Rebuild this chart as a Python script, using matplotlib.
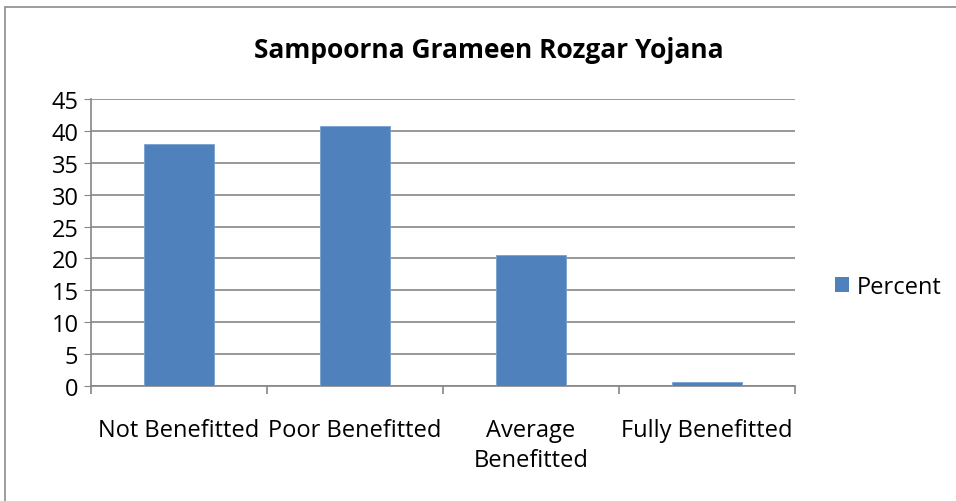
import matplotlib
matplotlib.use('Agg')
import matplotlib.pyplot as plt
from matplotlib.patches import Rectangle, Patch

plt.rcParams['font.family'] = ['Open Sans', 'DejaVu Sans']

categories = ['Not Benefitted', 'Poor Benefitted', 'Average\nBenefitted', 'Fully Benefitted']
percent = [37.9, 40.7, 20.5, 0.6]
y_ticks = [0, 5, 10, 15, 20, 25, 30, 35, 40, 45]

bar_color = '#4f81bd'
grid_color = '#868686'

fig = plt.figure(figsize=(9.56, 5.02), dpi=100)
fig.set_facecolor('w')

# outer chart border (runs off the right and bottom edges like the source)
fig.patches.append(Rectangle((5 / 956, -0.05), 1.0, 1 - 8 / 502 + 0.05,
                             transform=fig.transFigure, fill=False,
                             edgecolor='#8c8c8c', linewidth=1.2))

ax = fig.add_axes([91 / 956, 1 - 387 / 502, (795 - 91) / 956, (387 - 100) / 502])

x = list(range(len(categories)))
ax.bar(x, percent, width=0.4, color=bar_color, edgecolor='#7aa0d0', linewidth=0.6, zorder=3)

ax.set_xlim(-0.5, len(categories) - 0.5)
ax.set_ylim(0, 45)
ax.set_yticks(y_ticks)
ax.tick_params(axis='y', labelsize=17, length=5, color=grid_color, pad=4)

# category labels centered, tick marks at category boundaries
ax.set_xticks([i - 0.5 for i in range(len(categories) + 1)])
ax.set_xticklabels([])
ax.tick_params(axis='x', length=6, color=grid_color, width=1.2)
ax.set_xticks(x, minor=True)
ax.set_xticklabels(categories, minor=True, fontsize=17, linespacing=1.35)
ax.tick_params(axis='x', which='minor', length=0, pad=23)

ax.yaxis.grid(True, color=grid_color, linewidth=1.2, zorder=0)
for side in ['top', 'right']:
    ax.spines[side].set_visible(False)
for side in ['left', 'bottom']:
    ax.spines[side].set_color(grid_color)
    ax.spines[side].set_linewidth(1.2)

fig.text(489 / 956, 1 - 50 / 502, 'Sampoorna Grameen Rozgar Yojana',
         ha='center', va='center', fontsize=19, fontweight='bold')

fig.legend(handles=[Patch(facecolor=bar_color, label='Percent')],
           loc='center left', bbox_to_anchor=(814 / 956, 1 - 288 / 502),
           frameon=False, fontsize=17, handlelength=0.6, handleheight=0.6,
           handletextpad=0.3)

fig.savefig('out.png', dpi=100)
